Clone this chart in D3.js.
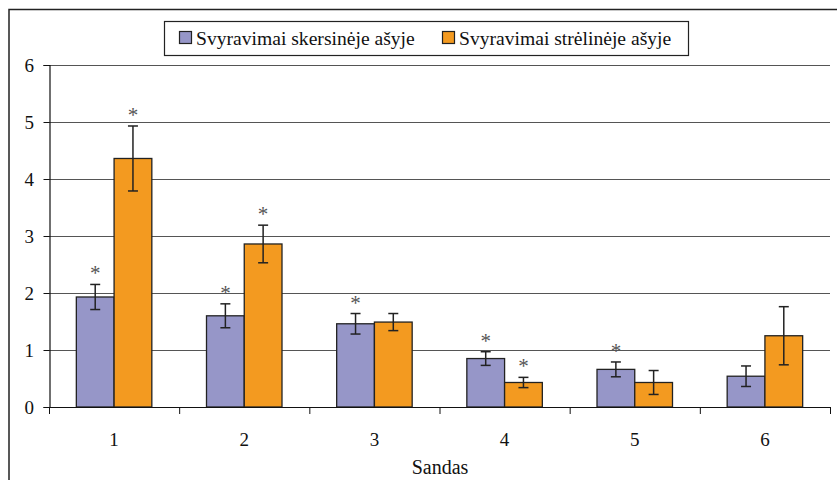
<!DOCTYPE html>
<html>
<head>
<meta charset="utf-8">
<script src="https://cdn.jsdelivr.net/npm/d3@7/dist/d3.min.js"></script>
</head>
<body style="margin:0">
<svg id="chart" width="837" height="480"></svg>
<script>
// Stages (Sandas) and the two oscillation series with their error margins
const categories = ["1", "2", "3", "4", "5", "6"];
const seriesNames = ["Svyravimai skersinėje ašyje", "Svyravimai strėlinėje ašyje"];
const transverse = [1.93, 1.60, 1.46, 0.85, 0.66, 0.54];
const transverseErr = [0.22, 0.21, 0.18, 0.12, 0.13, 0.18];
const sagittal = [4.36, 2.86, 1.49, 0.43, 0.43, 1.25];
const sagittalErr = [0.57, 0.33, 0.15, 0.09, 0.21, 0.51];
const transverseSig = [true, true, true, true, true, false];
const sagittalSig = [true, true, false, true, false, false];
const yTicks = [0, 1, 2, 3, 4, 5, 6];
const xTitle = "Sandas";
const colors = ["#9696c8", "#f39a20"];

const FONT = '"Liberation Serif", "Times New Roman", Tinos, "Nimbus Roman"';
function label(parent, txt, xp, yp, size, anchor, fill) {
  return parent.append("text").attr("x", xp).attr("y", yp)
    .attr("font-size", size).attr("text-anchor", anchor || "start")
    .attr("fill", fill || "#111")
    .attr("font-family", FONT).style("font-family", FONT)
    .text(txt);
}

const svg = d3.select("#chart").style("display", "block");
const margin = { left: 49, right: 7, top: 65, bottom: 73 };
const W = 837, H = 480;
const x0 = margin.left, x1 = W - margin.right;
const yBottom = H - margin.bottom, yTop = margin.top;

// outer frame (top and left edges)
svg.append("path")
  .attr("d", `M9,480 L9,9.5 L837,9.5`)
  .attr("fill", "none").attr("stroke", "#222").attr("stroke-width", 1.5);

const x = d3.scaleBand().domain(categories).range([x0, x1])
  .paddingInner(0.42).paddingOuter(0.21);
const xs = d3.scaleBand().domain([0, 1]).range([0, x.bandwidth()]);
const y = d3.scaleLinear().domain([0, 6]).range([yBottom, yTop]);

// horizontal gridlines
svg.append("g").selectAll("line").data(yTicks.filter(d => d > 0)).join("line")
  .attr("x1", x0).attr("x2", x1)
  .attr("y1", d => Math.round(y(d)) + 0.5).attr("y2", d => Math.round(y(d)) + 0.5)
  .attr("stroke", "#555").attr("stroke-width", 1);

// y axis: line and ticks from the axis generator, labels drawn in serif
const yAxis = d3.axisLeft(y).tickValues(yTicks).tickSize(6).tickFormat("");
const gy = svg.append("g").attr("transform", `translate(${x0 + 0.5},0)`).call(yAxis);
gy.select(".domain").attr("stroke", "#111").attr("stroke-width", 1.2);
gy.selectAll(".tick line").attr("stroke", "#111");
gy.selectAll(".tick text").remove();
const gyl = svg.append("g");
yTicks.forEach(t => label(gyl, String(t), x0 - 15, y(t) + 6.5, 19, "end"));

// bars
const series = [
  { vals: transverse, err: transverseErr, sig: transverseSig },
  { vals: sagittal, err: sagittalErr, sig: sagittalSig }
];
series.forEach((s, si) => {
  const g = svg.append("g");
  const rows = categories.map((c, i) => ({ c, v: s.vals[i] }));
  g.selectAll("rect").data(rows).join("rect")
    .attr("x", d => x(d.c) + xs(si))
    .attr("width", xs.bandwidth())
    .attr("y", d => y(d.v))
    .attr("height", d => y(0) - y(d.v))
    .attr("fill", colors[si]).attr("stroke", "#222").attr("stroke-width", 1.3);
});

// x axis
const gx = svg.append("g");
gx.append("line").attr("x1", x0).attr("x2", x1).attr("y1", yBottom + 0.5).attr("y2", yBottom + 0.5)
  .attr("stroke", "#111").attr("stroke-width", 1.2);
const bounds = d3.range(categories.length + 1).map(i => x0 + i * x.step());
gx.selectAll("line.tk").data(bounds).join("line").attr("class", "tk")
  .attr("x1", d => d + 0.5).attr("x2", d => d + 0.5)
  .attr("y1", yBottom).attr("y2", yBottom + 7).attr("stroke", "#111");
categories.forEach(c => label(gx, c, x(c) + x.bandwidth() / 2, yBottom + 39, 19, "middle"));
label(svg, xTitle, (x0 + x1) / 2 + 0.5, H - 6, 20, "middle");

// error bars and significance marks
series.forEach((s, si) => {
  const g = svg.append("g").attr("stroke", "#222").attr("stroke-width", 1.5);
  categories.forEach((c, i) => {
    const cx = x(c) + xs(si) + xs.bandwidth() / 2;
    const hi = y(s.vals[i] + s.err[i]), lo = y(s.vals[i] - s.err[i]);
    g.append("line").attr("x1", cx).attr("x2", cx).attr("y1", hi).attr("y2", lo);
    g.append("line").attr("x1", cx - 5).attr("x2", cx + 5).attr("y1", hi).attr("y2", hi);
    g.append("line").attr("x1", cx - 5).attr("x2", cx + 5).attr("y1", lo).attr("y2", lo);
    if (s.sig[i]) label(svg, "*", cx, hi - 4, 21, "middle", "#555");
  });
});

// legend
const lg = svg.append("g");
lg.append("rect").attr("x", 164.5).attr("y", 21.5).attr("width", 524).attr("height", 34)
  .attr("fill", "#fff").attr("stroke", "#222").attr("stroke-width", 1.2);
const legX = [179, 442];
seriesNames.forEach((n, i) => {
  lg.append("rect").attr("x", legX[i] + 0.5).attr("y", 31.5).attr("width", 12).attr("height", 12)
    .attr("fill", colors[i]).attr("stroke", "#222").attr("stroke-width", 1.2);
  label(lg, n, legX[i] + 17, 45, 19.6);
});
</script>
</body>
</html>
